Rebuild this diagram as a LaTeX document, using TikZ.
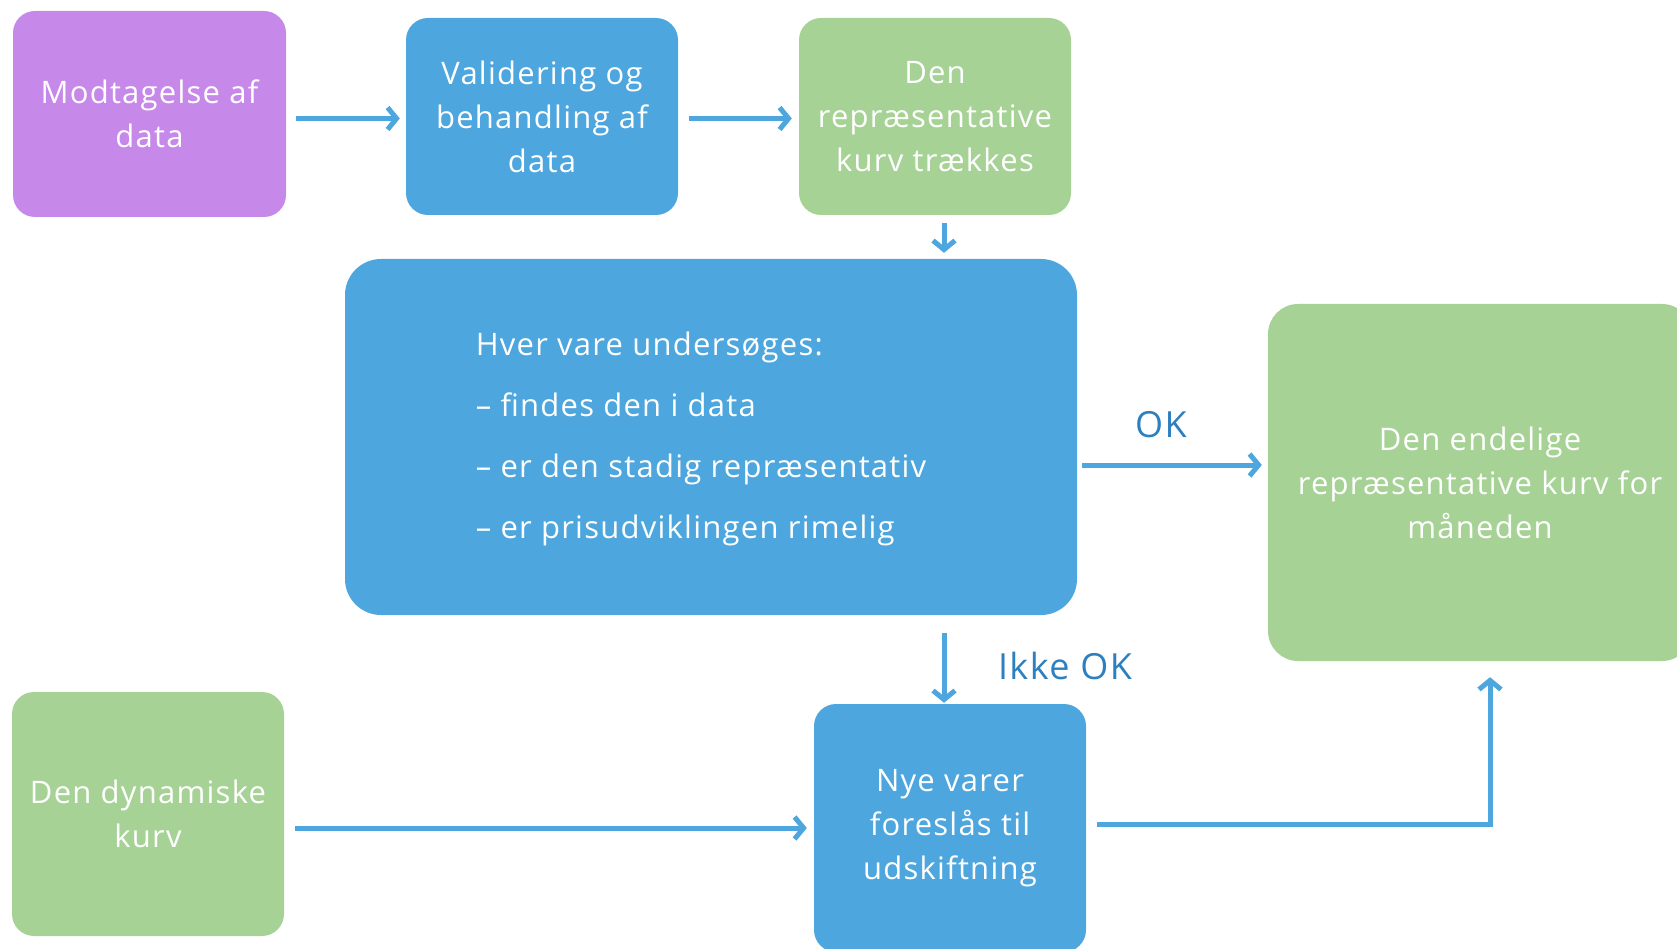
\documentclass[tikz,border=0pt]{standalone}
\usepackage{fontspec}
\setmainfont{Open Sans}[LetterSpace=4]
\usetikzlibrary{arrows.meta}
\definecolor{cpurple}{HTML}{C689E9}
\definecolor{cblue}{HTML}{4DA6DD}
\definecolor{cgreen}{HTML}{A7D296}
\definecolor{clabel}{HTML}{2D80BF}
\tikzset{
  box/.style={rounded corners=22pt, inner sep=0pt, align=center, text=white,
    font=\fontsize{31}{44}\selectfont},
  arr/.style={draw=cblue, line width=5pt, -{Straight Barb[length=9pt,width=22pt,line width=5pt]}},
  lbl/.style={text=clabel, font=\fontsize{36}{40}\selectfont, inner sep=0pt},
}
\begin{document}
\begin{tikzpicture}[x=1pt,y=-1pt]
\useasboundingbox (0,0) rectangle (1677,949);
\clip (0,0) rectangle (1677,949);
\node[box, fill=cpurple, minimum width=273pt, minimum height=206pt] (m1) at (149.5,114) {Modtagelse af\\data};
\node[box, fill=cblue, minimum width=272pt, minimum height=197pt] (m2) at (542,116.5) {Validering og\\behandling af\\data};
\node[box, fill=cgreen, minimum width=272pt, minimum height=197pt] (m3) at (935,116.5) {Den\\repræsentative\\kurv trækkes};
\node[box, rounded corners=36pt, fill=cblue, minimum width=732pt, minimum height=356pt] (big) at (711,437) {};
\node[box, align=left, font=\fontsize{31}{61}\selectfont] (bigtxt) at (701,438.5)
  {Hver vare undersøges:\\– findes den i data\\– er den stadig repræsentativ\\– er prisudviklingen rimelig};
\node[box, rounded corners=30pt, fill=cgreen, minimum width=424pt, minimum height=357pt] (fin) at (1480,482.5)
  {Den endelige\\repræsentative kurv for\\måneden};
\node[box, fill=cgreen, minimum width=272pt, minimum height=244pt] (dyn) at (148,814) {Den dynamiske\\kurv};
\node[box, fill=cblue, minimum width=272pt, minimum height=248pt] (nye) at (950,828) {Nye varer\\foreslås til\\udskiftning};
\node[lbl] (ok) at (1161,425) {OK};
\node[lbl] (ikke) at (1065,666) {Ikke OK};
\draw[arr, shorten <=10pt, shorten >=6pt] ([yshift=-2pt]m1.east |- m2.west) -- ([yshift=-2pt]m2.west);
\draw[arr, shorten <=11pt, shorten >=7pt] ([yshift=-2pt]m2.east) -- ([yshift=-2pt]m3.west);
\draw[arr, shorten <=8pt, shorten >=6pt] ([xshift=9pt]m3.south) -- ([xshift=9pt]m3.south |- big.north);
\draw[arr, shorten <=5pt, shorten >=6pt] ([yshift=-28pt]big.east) -- ([yshift=-28pt]big.east -| fin.west);
\draw[arr, shorten <=18pt, shorten >=1pt] ([xshift=-6pt]nye.north |- big.south) -- ([xshift=-6pt]nye.north);
\draw[arr, shorten <=11pt, shorten >=7pt] (dyn.east |- nye.west) -- (nye.west);
\draw[arr, shorten <=11pt, shorten >=16pt] ([yshift=4pt]nye.east) -| ([xshift=10pt]fin.south);
\end{tikzpicture}
\end{document}
